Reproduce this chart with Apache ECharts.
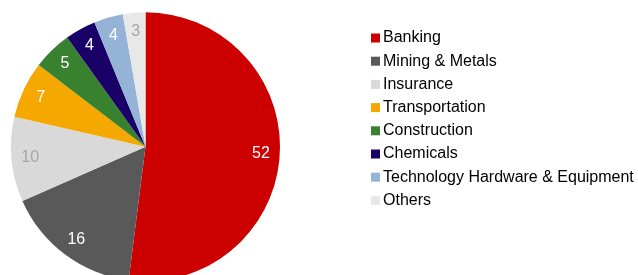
<!DOCTYPE html>
<html>
<head>
<meta charset="utf-8">
<script src="https://cdn.jsdelivr.net/npm/echarts@6/dist/echarts.min.js"></script>
<style>html,body{margin:0;padding:0;background:#fff;}#c{width:638px;height:275px;}</style>
</head>
<body>
<div id="c"></div>
<script>
const categories = ["Banking", "Mining & Metals", "Insurance", "Transportation", "Construction", "Chemicals", "Technology Hardware & Equipment", "Others"];
const values = [52.0, 16.4, 10.2, 6.8, 4.7, 3.7, 3.5, 2.7];
const colors = ["#CC0000", "#595959", "#D9D9D9", "#F5A800", "#37812F", "#180066", "#95B3D7", "#E8E8E8"];
const labelColors = ["#FFFFFF", "#FFFFFF", "#A6A6A6", "#FFFFFF", "#FFFFFF", "#FFFFFF", "#FFFFFF", "#A6A6A6"];

const chart = echarts.init(document.getElementById('c'));
const center = [145.5, 146.8];
const R = 134.5;
chart.setOption({
  animation: false,
  legend: {
    orient: 'vertical',
    left: 371,
    top: 30,
    padding: 0,
    itemWidth: 9,
    itemHeight: 9,
    itemGap: 7.2,
    icon: 'rect',
    textStyle: { fontFamily: 'Liberation Sans, Arial, sans-serif', fontSize: 16, color: '#000', padding: [0, 0, 0, -2] },
    data: categories.map((c, i) => ({ name: c, itemStyle: { color: colors[i] } }))
  },
  series: [
    {
      type: 'pie',
      center: center,
      radius: [0, R],
      startAngle: 90,
      clockwise: true,
      label: { show: false },
      labelLine: { show: false },
      itemStyle: { borderWidth: 0 },
      data: categories.map((c, i) => ({ name: c, value: values[i], itemStyle: { color: colors[i] } }))
    },
    {
      type: 'pie',
      center: center,
      radius: [91, R],
      startAngle: 90,
      clockwise: true,
      silent: true,
      legendHoverLink: false,
      label: { show: true, position: 'inside', formatter: p => String(Math.round(p.value)), fontFamily: 'Liberation Sans, Arial, sans-serif', fontSize: 16 },
      labelLine: { show: false },
      data: categories.map((c, i) => ({ name: c, value: values[i], itemStyle: { color: 'rgba(0,0,0,0)' }, label: { color: labelColors[i] } }))
    }
  ]
});
</script>
</body>
</html>
